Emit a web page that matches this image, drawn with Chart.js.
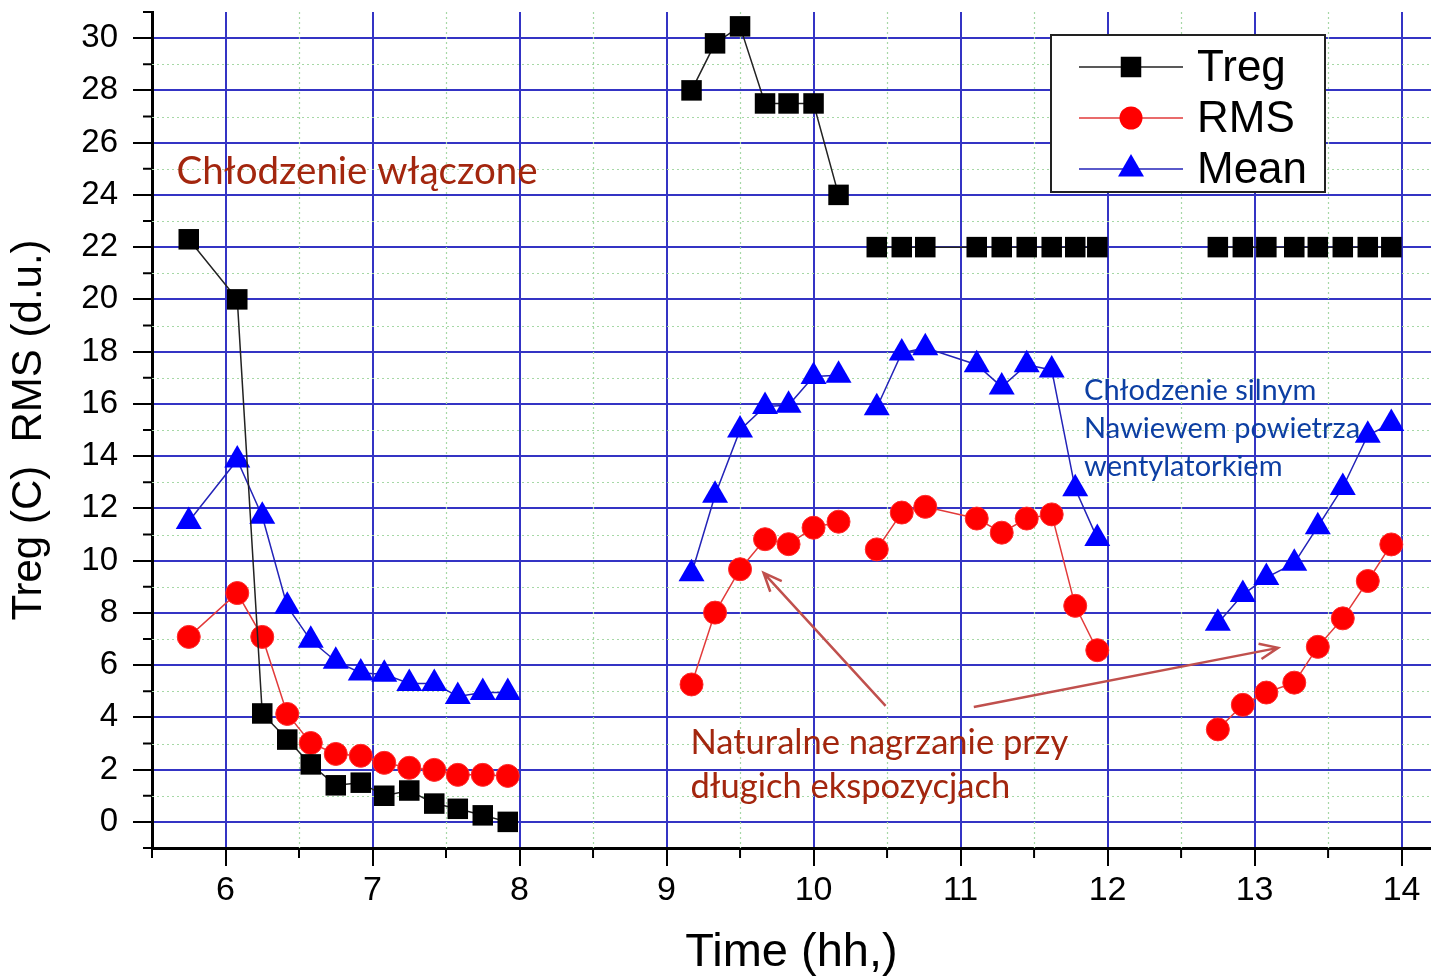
<!DOCTYPE html>
<html>
<head>
<meta charset="utf-8">
<script src="https://cdn.jsdelivr.net/npm/chart.js@4.4.1/dist/chart.umd.min.js"></script>
<style>
  html, body { margin: 0; padding: 0; background: #fff; overflow: hidden; }
  #wrap { width: 1431px; height: 977px; position: relative; }
  #chart { display: block; }
</style>
</head>
<body>
<div id="wrap"><canvas id="chart"></canvas></div>
<script>
// reading times (hours), null = break between measurement runs
var times = [
  5.75, 6.08, 6.25, 6.42, 6.58, 6.75, 6.92, 7.08, 7.25, 7.42, 7.58, 7.75, 7.92, null,
  9.17, 9.33, 9.5, 9.67, 9.83, 10.0, 10.17, null,
  10.43, 10.6, 10.76, 11.11, 11.28, 11.45, 11.62, 11.78, 11.93, null,
  12.75, 12.92, 13.08, 13.27, 13.43, 13.6, 13.77, 13.93
];
var treg = [
  22.3, 20.0, 4.15, 3.15, 2.2, 1.4, 1.5, 1.0, 1.2, 0.7, 0.5, 0.25, 0.0, null,
  28.0, 29.8, 30.45, 27.5, 27.5, 27.5, 24.0, null,
  22, 22, 22, 22, 22, 22, 22, 22, 22, null,
  22, 22, 22, 22, 22, 22, 22, 22
];
var rms = [
  7.08, 8.76, 7.08, 4.13, 3.02, 2.6, 2.53, 2.26, 2.07, 1.99, 1.8, 1.8, 1.76, null,
  5.26, 8.01, 9.67, 10.82, 10.63, 11.26, 11.49, null,
  10.43, 11.84, 12.06, 11.61, 11.07, 11.61, 11.77, 8.27, 6.57, null,
  3.54, 4.48, 4.95, 5.33, 6.7, 7.79, 9.22, 10.62
];
var mean = [
  11.5, 13.85, 11.7, 8.25, 6.95, 6.15, 5.7, 5.65, 5.3, 5.3, 4.8, 4.95, 4.95, null,
  9.5, 12.5, 15.0, 15.9, 15.95, 17.05, 17.1, null,
  15.85, 17.95, 18.15, 17.5, 16.65, 17.5, 17.3, 12.75, 10.85, null,
  7.6, 8.7, 9.35, 9.9, 11.3, 12.8, 14.8, 15.25
];
var xTicks = [6, 7, 8, 9, 10, 11, 12, 13, 14];
var yTicks = [0, 2, 4, 6, 8, 10, 12, 14, 16, 18, 20, 22, 24, 26, 28, 30];

// text notes on the plot, placed in data units
var notes = [
  { text: 'Chłodzenie włączone', x: 5.667, y: 24.9, color: '#a3260e', size: 38.5 },
  { text: 'Chłodzenie silnym', x: 11.84, y: 16.49, color: '#0d3fa3', size: 29 },
  { text: 'Nawiewem powietrza', x: 11.84, y: 15.04, color: '#0d3fa3', size: 29 },
  { text: 'wentylatorkiem', x: 11.84, y: 13.59, color: '#0d3fa3', size: 29 },
  { text: 'Naturalne nagrzanie przy', x: 9.163, y: 3.02, color: '#a3260e', size: 34.5 },
  { text: 'długich ekspozycjach', x: 9.163, y: 1.34, color: '#a3260e', size: 34.5 }
];
var arrows = [
  { from: [10.49, 4.44], to: [9.66, 9.53] },
  { from: [11.09, 4.4], to: [13.16, 6.66] }
];

function pts(values) {
  return values.map(function (v, i) { return { x: times[i], y: v }; });
}

var FONT = '"Liberation Sans", Arial, sans-serif';

// dotted minor grid and short minor ticks
var minorGrid = {
  id: 'minorGrid',
  beforeDatasetsDraw: function (chart) {
    var ctx = chart.ctx, a = chart.chartArea;
    var xs = chart.scales.x, ys = chart.scales.y;
    ctx.save();
    ctx.strokeStyle = '#a6d8a6';
    ctx.lineWidth = 1.2;
    ctx.setLineDash([2, 3]);
    for (var v = 6.5; v < 14.2; v += 1) {
      var px = Math.round(xs.getPixelForValue(v)) + 0.5;
      ctx.beginPath(); ctx.moveTo(px, a.top); ctx.lineTo(px, a.bottom); ctx.stroke();
    }
    for (var w = 1; w < 31; w += 2) {
      var py = Math.round(ys.getPixelForValue(w)) + 0.5;
      ctx.beginPath(); ctx.moveTo(a.left, py); ctx.lineTo(a.right, py); ctx.stroke();
    }
    ctx.setLineDash([]);
    ctx.strokeStyle = '#000';
    ctx.lineWidth = 2;
    for (var m = 5.5; m < 14.2; m += 1) {
      var tx = xs.getPixelForValue(m);
      ctx.beginPath(); ctx.moveTo(tx, a.bottom); ctx.lineTo(tx, a.bottom + 10); ctx.stroke();
    }
    for (var n = -1; n <= 31; n += 2) {
      var ty = ys.getPixelForValue(n);
      ctx.beginPath(); ctx.moveTo(a.left, ty); ctx.lineTo(a.left - 9, ty); ctx.stroke();
    }
    ctx.restore();
  }
};

function marker(ctx, style, x, y, r, color) {
  ctx.fillStyle = color;
  ctx.beginPath();
  if (style === 'rect') {
    var s = r * Math.SQRT1_2;
    ctx.rect(x - s, y - s, 2 * s, 2 * s);
  } else if (style === 'circle') {
    ctx.arc(x, y, r, 0, Math.PI * 2);
  } else {
    ctx.moveTo(x, y - r);
    ctx.lineTo(x + r * 0.866, y + r / 2);
    ctx.lineTo(x - r * 0.866, y + r / 2);
    ctx.closePath();
  }
  ctx.fill();
}

var notesAndLegend = {
  id: 'notesAndLegend',
  afterDatasetsDraw: function (chart) {
    var ctx = chart.ctx;
    var xs = chart.scales.x, ys = chart.scales.y;
    ctx.save();

    notes.forEach(function (n) {
      ctx.font = n.size + 'px Lato, "Open Sans", sans-serif';
      ctx.fillStyle = n.color;
      ctx.textAlign = 'left';
      ctx.textBaseline = 'middle';
      ctx.fillText(n.text, xs.getPixelForValue(n.x), ys.getPixelForValue(n.y));
    });

    ctx.strokeStyle = '#c0504d';
    ctx.lineWidth = 2.5;
    arrows.forEach(function (ar) {
      var x0 = xs.getPixelForValue(ar.from[0]), y0 = ys.getPixelForValue(ar.from[1]);
      var x1 = xs.getPixelForValue(ar.to[0]), y1 = ys.getPixelForValue(ar.to[1]);
      var ang = Math.atan2(y1 - y0, x1 - x0), h = 20;
      ctx.beginPath();
      ctx.moveTo(x0, y0); ctx.lineTo(x1, y1);
      ctx.moveTo(x1 - h * Math.cos(ang - 0.4), y1 - h * Math.sin(ang - 0.4));
      ctx.lineTo(x1, y1);
      ctx.lineTo(x1 - h * Math.cos(ang + 0.4), y1 - h * Math.sin(ang + 0.4));
      ctx.stroke();
    });

    // legend box
    var bx = 1051, by = 35, bw = 274, bh = 157;
    ctx.fillStyle = '#fff';
    ctx.fillRect(bx, by, bw, bh);
    ctx.strokeStyle = '#222';
    ctx.lineWidth = 2;
    ctx.strokeRect(bx, by, bw, bh);
    ctx.font = '44px ' + FONT;
    ctx.textBaseline = 'middle';
    ctx.textAlign = 'left';
    chart.data.datasets.forEach(function (ds, i) {
      var cy = by + 32 + i * 51;
      ctx.strokeStyle = ds.borderColor;
      ctx.lineWidth = 1.5;
      ctx.beginPath(); ctx.moveTo(bx + 28, cy); ctx.lineTo(bx + 132, cy); ctx.stroke();
      marker(ctx, ds.pointStyle, bx + 80, cy, ds.pointRadius, ds.pointBackgroundColor);
      ctx.fillStyle = '#000';
      ctx.fillText(ds.label, bx + 146, cy + 2);
    });
    ctx.restore();
  }
};

new Chart(document.getElementById('chart'), {
  type: 'line',
  data: {
    datasets: [{
      label: 'Treg',
      data: pts(treg),
      borderColor: '#222222',
      borderWidth: 1.5,
      pointStyle: 'rect',
      pointRadius: 14.5,
      pointBackgroundColor: '#000000',
      pointBorderWidth: 0
    }, {
      label: 'RMS',
      data: pts(rms),
      borderColor: '#e23a3a',
      borderWidth: 1.5,
      pointStyle: 'circle',
      pointRadius: 11.5,
      pointBackgroundColor: '#ff0000',
      pointBorderColor: '#ff2a2a',
      pointBorderWidth: 1
    }, {
      label: 'Mean',
      data: pts(mean),
      borderColor: '#2323b8',
      borderWidth: 1.5,
      pointStyle: 'triangle',
      pointRadius: 15,
      pointBackgroundColor: '#0000ff',
      pointBorderWidth: 0
    }]
  },
  options: {
    responsive: true,
    maintainAspectRatio: false,
    animation: false,
    layout: { autoPadding: false, padding: { top: 12, right: 0, left: 0, bottom: 0 } },
    plugins: { legend: { display: false }, tooltip: { enabled: false } },
    scales: {
      x: {
        type: 'linear',
        min: 5.5,
        max: 14.2,
        afterBuildTicks: function (axis) {
          axis.ticks = xTicks.map(function (v) { return { value: v }; });
        },
        afterFit: function (axis) {
          axis.height = 129;
          axis.paddingLeft = 0;
          axis.paddingRight = 0;
        },
        grid: { color: '#3434c4', lineWidth: 2, tickColor: '#000', tickWidth: 2, tickLength: 18 },
        border: { color: '#000', width: 3 },
        ticks: { color: '#000', font: { family: FONT, size: 34 }, padding: 4, maxRotation: 0 },
        title: {
          display: true,
          text: 'Time (hh,)',
          color: '#000',
          font: { family: FONT, size: 47, lineHeight: 1.0 },
          padding: 0
        }
      },
      y: {
        type: 'linear',
        min: -1,
        max: 31,
        afterBuildTicks: function (axis) {
          axis.ticks = yTicks.map(function (v) { return { value: v }; });
        },
        afterFit: function (axis) {
          axis.width = 152;
          axis.paddingTop = 0;
          axis.paddingBottom = 0;
        },
        grid: { color: '#3434c4', lineWidth: 2, tickColor: '#000', tickWidth: 2, tickLength: 19 },
        border: { color: '#000', width: 3 },
        ticks: { color: '#000', font: { family: FONT, size: 33 }, padding: 15 },
        title: {
          display: true,
          text: 'Treg (C)  RMS (d.u.)',
          color: '#000',
          font: { family: FONT, size: 42, lineHeight: 1.2 },
          padding: { top: 4, bottom: 4 }
        }
      }
    }
  },
  plugins: [minorGrid, notesAndLegend]
});
</script>
</body>
</html>
